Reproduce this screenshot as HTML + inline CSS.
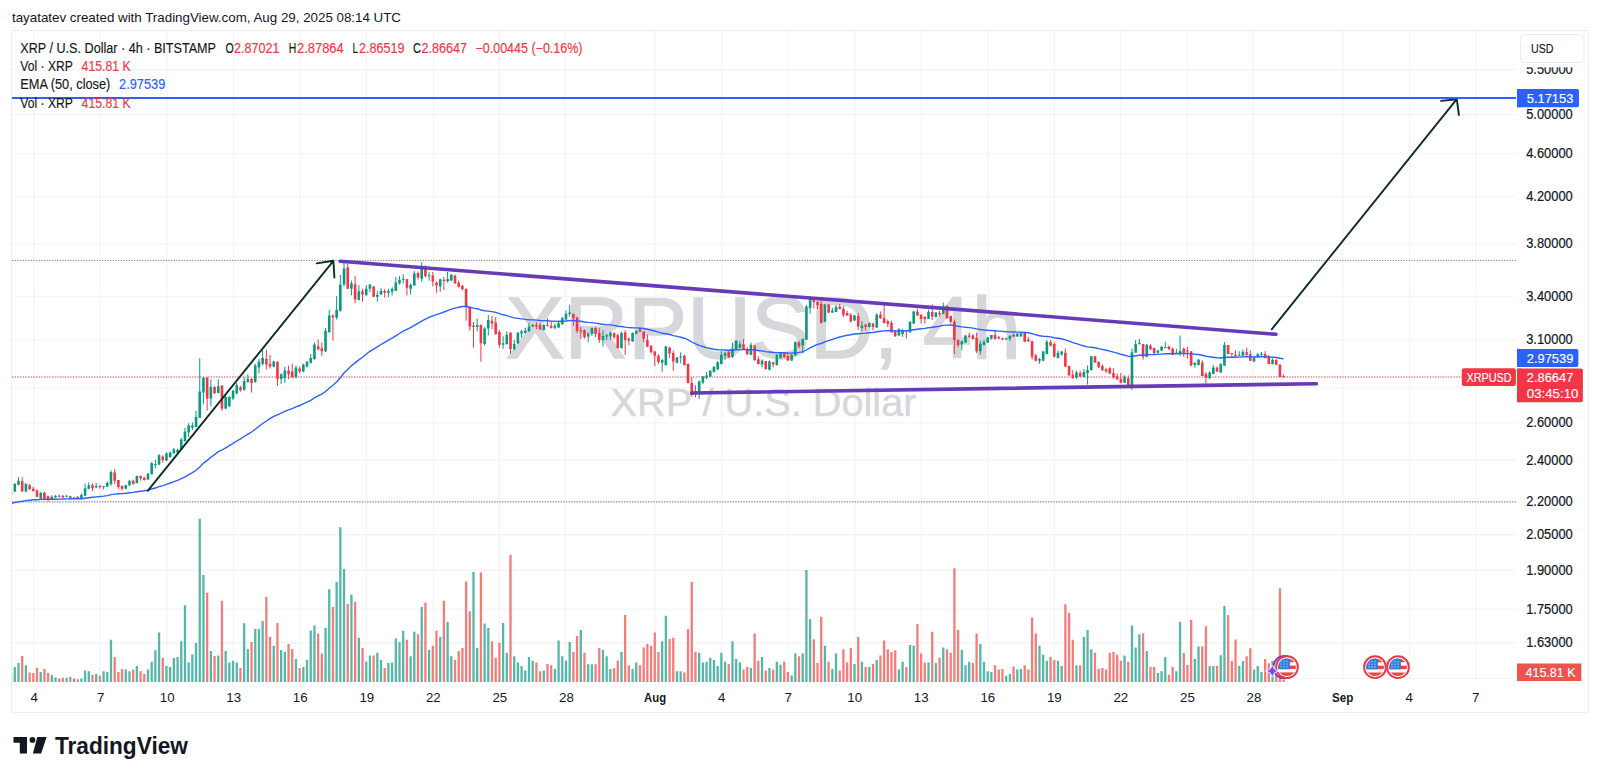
<!DOCTYPE html><html><head><meta charset="utf-8"><style>html,body{margin:0;padding:0;background:#fff;width:1600px;height:779px;overflow:hidden}</style></head><body><svg width="1600" height="779" viewBox="0 0 1600 779" style="display:block">
<rect width="1600" height="779" fill="#ffffff"/>
<text x="12" y="21.5" font-family='"Liberation Sans", sans-serif' font-size="13" fill="#131722" textLength="389" lengthAdjust="spacingAndGlyphs">tayatatev created with TradingView.com, Aug 29, 2025 08:14 UTC</text>
<rect x="11.5" y="30.5" width="1577" height="682" fill="none" stroke="#eeeeef" stroke-width="1"/>
<path d="M12 69.6H1516 M12 114.5H1516 M12 153.8H1516 M12 196.7H1516 M12 243.8H1516 M12 296.2H1516 M12 339.7H1516 M12 387.7H1516 M12 422.7H1516 M12 460.4H1516 M12 501.4H1516 M12 534.6H1516 M12 570.4H1516 M12 609.2H1516 M12 642.6H1516 M12 678.5H1516 M34.0 31V681 M100.0 31V681 M167.0 31V681 M233.5 31V681 M300.3 31V681 M366.3 31V681 M433.5 31V681 M499.3 31V681 M565.2 31V681 M655.0 31V681 M721.8 31V681 M788.2 31V681 M855.0 31V681 M921.2 31V681 M988.5 31V681 M1054.3 31V681 M1120.5 31V681 M1187.2 31V681 M1253.3 31V681 M1343.0 31V681 M1409.6 31V681 M1476.0 31V681" stroke="#f3f3f4" stroke-width="1.1" fill="none"/>
<text x="505.5" y="357.8" font-family='"Liberation Sans", sans-serif' font-size="88" fill="#d6d7db" stroke="#d6d7db" stroke-width="1.4" textLength="515.5" lengthAdjust="spacingAndGlyphs">XRPUSD, 4h</text>
<text x="610.5" y="415.5" font-family='"Liberation Sans", sans-serif' font-size="39.5" fill="#d6d7db" stroke="#d6d7db" stroke-width="0.4" textLength="306" lengthAdjust="spacingAndGlyphs">XRP / U.S. Dollar</text>
<path d="M12 260.5H1516M12 501.8H1516" stroke="#8c8c8c" stroke-width="1.2" stroke-dasharray="1.3 1.35" fill="none"/>
<path d="M12 377H1462" stroke="#f23645" stroke-width="1.2" stroke-dasharray="1.3 1.35" fill="none"/>
<path d="M12.00 682V672.8H12.25V682Z M13.65 682V667.0H15.95V682Z M17.35 682V663.1H19.65V682Z M24.75 682V665.2H27.05V682Z M39.55 682V672.1H41.85V682Z M50.65 682V674.9H52.95V682Z M54.35 682V677.4H56.65V682Z M65.44 682V677.7H67.74V682Z M72.84 682V678.6H75.14V682Z M80.24 682V678.6H82.54V682Z M83.94 682V670.5H86.24V682Z M87.64 682V671.2H89.94V682Z M95.04 682V674.0H97.34V682Z M102.43 682V671.2H104.73V682Z M106.13 682V672.1H108.43V682Z M109.83 682V639.8H112.13V682Z M124.63 682V669.4H126.93V682Z M128.33 682V671.2H130.63V682Z M135.73 682V666.1H138.03V682Z M146.83 682V669.4H149.13V682Z M150.52 682V661.7H152.82V682Z M154.22 682V650.2H156.52V682Z M157.92 682V632.4H160.22V682Z M165.32 682V666.1H167.62V682Z M169.02 682V667.0H171.32V682Z M172.72 682V658.0H175.02V682Z M176.42 682V657.1H178.72V682Z M180.12 682V641.2H182.42V682Z M183.82 682V605.2H186.12V682Z M187.52 682V662.4H189.82V682Z M191.22 682V654.6H193.52V682Z M194.91 682V643.0H197.21V682Z M198.61 682V518.8H200.91V682Z M202.31 682V575.1H204.61V682Z M209.71 682V650.9H212.01V682Z M217.11 682V655.5H219.41V682Z M224.51 682V650.9H226.81V682Z M228.21 682V662.4H230.51V682Z M231.91 682V660.8H234.21V682Z M235.61 682V662.4H237.91V682Z M243.00 682V623.2H245.30V682Z M246.70 682V649.0H249.00V682Z M254.10 682V628.9H256.40V682Z M257.80 682V628.9H260.10V682Z M261.50 682V620.9H263.80V682Z M272.60 682V645.8H274.90V682Z M280.00 682V650.0H282.30V682Z M283.70 682V651.8H286.00V682Z M294.79 682V659.0H297.09V682Z M302.19 682V667.0H304.49V682Z M305.89 682V660.1H308.19V682Z M309.59 682V630.6H311.89V682Z M313.29 682V625.5H315.59V682Z M324.39 682V628.0H326.69V682Z M328.09 682V589.2H330.39V682Z M335.48 682V582.1H337.78V682Z M339.18 682V527.3H341.48V682Z M342.88 682V569.1H345.18V682Z M350.28 682V594.5H352.58V682Z M357.68 682V637.7H359.98V682Z M365.08 682V661.5H367.38V682Z M368.78 682V655.5H371.08V682Z M376.18 682V652.7H378.48V682Z M379.87 682V660.1H382.17V682Z M387.27 682V663.1H389.57V682Z M390.97 682V662.4H393.27V682Z M394.67 682V638.6H396.97V682Z M398.37 682V642.1H400.67V682Z M402.07 682V630.8H404.37V682Z M409.47 682V656.2H411.77V682Z M413.17 682V631.7H415.47V682Z M420.57 682V607.0H422.87V682Z M427.96 682V650.0H430.26V682Z M439.06 682V637.0H441.36V682Z M446.46 682V622.0H448.76V682Z M450.16 682V656.2H452.46V682Z M472.35 682V571.9H474.65V682Z M476.05 682V648.1H478.35V682Z M483.45 682V623.6H485.75V682Z M487.15 682V628.0H489.45V682Z M501.95 682V622.9H504.25V682Z M505.65 682V652.7H507.95V682Z M513.05 682V656.2H515.35V682Z M516.75 682V662.4H519.05V682Z M520.44 682V665.9H522.74V682Z M524.14 682V670.5H526.44V682Z M527.84 682V657.1H530.14V682Z M531.54 682V660.8H533.84V682Z M542.64 682V670.5H544.94V682Z M553.74 682V668.9H556.04V682Z M557.44 682V640.5H559.74V682Z M561.14 682V656.2H563.44V682Z M564.83 682V660.8H567.13V682Z M568.53 682V642.1H570.83V682Z M579.63 682V630.1H581.93V682Z M587.03 682V664.3H589.33V682Z M590.73 682V664.3H593.03V682Z M601.83 682V649.7H604.13V682Z M605.53 682V656.2H607.83V682Z M609.23 682V668.9H611.53V682Z M620.32 682V652.0H622.62V682Z M631.42 682V668.9H633.72V682Z M635.12 682V662.4H637.42V682Z M661.01 682V641.2H663.31V682Z M664.71 682V615.8H667.01V682Z M675.81 682V671.2H678.11V682Z M679.51 682V671.2H681.81V682Z M698.01 682V652.7H700.31V682Z M701.71 682V662.4H704.01V682Z M705.40 682V661.7H707.70V682Z M709.10 682V657.8H711.40V682Z M712.80 682V660.1H715.10V682Z M716.50 682V665.9H718.80V682Z M720.20 682V652.7H722.50V682Z M723.90 682V661.7H726.20V682Z M731.30 682V641.2H733.60V682Z M735.00 682V659.0H737.30V682Z M738.70 682V662.4H741.00V682Z M749.79 682V668.0H752.09V682Z M760.89 682V657.1H763.19V682Z M768.29 682V668.0H770.59V682Z M775.69 682V661.7H777.99V682Z M779.39 682V664.7H781.69V682Z M790.49 682V675.6H792.79V682Z M794.19 682V653.6H796.49V682Z M801.58 682V653.6H803.88V682Z M805.28 682V570.0H807.58V682Z M808.98 682V619.2H811.28V682Z M823.78 682V645.8H826.08V682Z M831.18 682V668.9H833.48V682Z M834.88 682V653.6H837.18V682Z M853.37 682V664.0H855.67V682Z M860.77 682V661.7H863.07V682Z M868.17 682V667.0H870.47V682Z M875.57 682V660.1H877.87V682Z M897.76 682V669.4H900.06V682Z M901.46 682V661.7H903.76V682Z M908.86 682V645.1H911.16V682Z M912.56 682V645.8H914.86V682Z M927.36 682V662.4H929.66V682Z M934.75 682V663.1H937.05V682Z M942.15 682V647.4H944.45V682Z M960.65 682V649.7H962.95V682Z M964.35 682V665.2H966.65V682Z M968.05 682V661.7H970.35V682Z M979.15 682V643.9H981.45V682Z M982.84 682V661.7H985.14V682Z M986.54 682V671.2H988.84V682Z M990.24 682V672.1H992.54V682Z M1005.04 682V675.8H1007.34V682Z M1008.74 682V674.0H1011.04V682Z M1016.14 682V669.4H1018.44V682Z M1019.84 682V668.9H1022.14V682Z M1038.33 682V645.8H1040.63V682Z M1042.03 682V654.8H1044.33V682Z M1045.73 682V660.8H1048.03V682Z M1056.83 682V660.8H1059.13V682Z M1060.53 682V665.9H1062.83V682Z M1075.32 682V665.2H1077.62V682Z M1082.72 682V637.0H1085.02V682Z M1086.42 682V630.1H1088.72V682Z M1090.12 682V649.3H1092.42V682Z M1123.41 682V655.5H1125.71V682Z M1130.81 682V625.5H1133.11V682Z M1134.51 682V647.4H1136.81V682Z M1138.21 682V634.2H1140.51V682Z M1145.61 682V650.9H1147.91V682Z M1156.71 682V672.9H1159.01V682Z M1160.41 682V671.2H1162.71V682Z M1164.11 682V657.1H1166.41V682Z M1175.20 682V671.2H1177.50V682Z M1178.90 682V622.1H1181.20V682Z M1193.70 682V658.9H1196.00V682Z M1197.40 682V646.6H1199.70V682Z M1208.50 682V666.0H1210.80V682Z M1212.19 682V666.0H1214.49V682Z M1219.59 682V655.2H1221.89V682Z M1223.29 682V605.9H1225.59V682Z M1238.09 682V666.0H1240.39V682Z M1241.79 682V660.9H1244.09V682Z M1252.89 682V669.4H1255.19V682Z M1256.59 682V666.0H1258.89V682Z M1260.28 682V672.0H1262.58V682Z M1271.38 682V660.9H1273.68V682Z" fill="#55b7a8"/>
<path d="M21.05 682V656.0H23.35V682Z M28.45 682V672.4H30.75V682Z M32.15 682V673.0H34.45V682Z M35.85 682V667.7H38.15V682Z M43.25 682V668.9H45.55V682Z M46.95 682V673.0H49.25V682Z M58.04 682V678.6H60.34V682Z M61.74 682V677.7H64.04V682Z M69.14 682V676.7H71.44V682Z M76.54 682V679.3H78.84V682Z M91.34 682V675.1H93.64V682Z M98.74 682V675.8H101.04V682Z M113.53 682V657.1H115.83V682Z M117.23 682V672.1H119.53V682Z M120.93 682V668.9H123.23V682Z M132.03 682V669.4H134.33V682Z M139.43 682V671.2H141.73V682Z M143.13 682V674.0H145.43V682Z M161.62 682V658.0H163.92V682Z M206.01 682V592.7H208.31V682Z M213.41 682V656.0H215.71V682Z M220.81 682V600.8H223.11V682Z M239.31 682V668.0H241.61V682Z M250.40 682V642.1H252.70V682Z M265.20 682V597.1H267.50V682Z M268.90 682V637.0H271.20V682Z M276.30 682V622.9H278.60V682Z M287.39 682V643.9H289.69V682Z M291.09 682V649.0H293.39V682Z M298.49 682V668.0H300.79V682Z M316.99 682V633.6H319.29V682Z M320.69 682V653.6H322.99V682Z M331.79 682V607.0H334.09V682Z M346.58 682V604.0H348.88V682Z M353.98 682V601.7H356.28V682Z M361.38 682V648.1H363.68V682Z M372.48 682V655.5H374.78V682Z M383.57 682V668.0H385.87V682Z M405.77 682V639.8H408.07V682Z M416.87 682V634.2H419.17V682Z M424.27 682V602.4H426.57V682Z M431.66 682V645.8H433.96V682Z M435.36 682V630.8H437.66V682Z M442.76 682V600.8H445.06V682Z M453.86 682V660.1H456.16V682Z M457.56 682V650.9H459.86V682Z M461.26 682V648.1H463.56V682Z M464.96 682V581.6H467.26V682Z M468.66 682V611.2H470.96V682Z M479.75 682V572.4H482.05V682Z M490.85 682V641.2H493.15V682Z M494.55 682V657.8H496.85V682Z M498.25 682V642.8H500.55V682Z M509.35 682V555.0H511.65V682Z M535.24 682V662.4H537.54V682Z M538.94 682V671.2H541.24V682Z M546.34 682V664.0H548.64V682Z M550.04 682V665.2H552.34V682Z M572.23 682V652.0H574.53V682Z M575.93 682V635.9H578.23V682Z M583.33 682V652.7H585.63V682Z M594.43 682V664.3H596.73V682Z M598.13 682V648.1H600.43V682Z M612.92 682V668.2H615.22V682Z M616.62 682V660.6H618.92V682Z M624.02 682V615.1H626.32V682Z M627.72 682V665.2H630.02V682Z M638.82 682V665.2H641.12V682Z M642.52 682V647.4H644.82V682Z M646.22 682V643.9H648.52V682Z M649.92 682V645.8H652.22V682Z M653.62 682V632.4H655.92V682Z M657.31 682V652.0H659.61V682Z M668.41 682V638.9H670.71V682Z M672.11 682V637.7H674.41V682Z M683.21 682V672.4H685.51V682Z M686.91 682V628.9H689.21V682Z M690.61 682V582.1H692.91V682Z M694.31 682V652.0H696.61V682Z M727.60 682V664.0H729.90V682Z M742.40 682V669.4H744.70V682Z M746.10 682V667.0H748.40V682Z M753.49 682V633.6H755.79V682Z M757.19 682V660.8H759.49V682Z M764.59 682V670.5H766.89V682Z M771.99 682V669.4H774.29V682Z M783.09 682V661.7H785.39V682Z M786.79 682V672.1H789.09V682Z M797.88 682V656.2H800.18V682Z M812.68 682V639.3H814.98V682Z M816.38 682V663.1H818.68V682Z M820.08 682V616.7H822.38V682Z M827.48 682V661.7H829.78V682Z M838.58 682V670.5H840.88V682Z M842.27 682V649.3H844.57V682Z M845.97 682V662.4H848.27V682Z M849.67 682V648.1H851.97V682Z M857.07 682V637.0H859.37V682Z M864.47 682V667.0H866.77V682Z M871.87 682V664.0H874.17V682Z M879.27 682V655.5H881.57V682Z M882.97 682V640.5H885.27V682Z M886.67 682V649.3H888.97V682Z M890.36 682V652.0H892.66V682Z M894.06 682V650.2H896.36V682Z M905.16 682V667.0H907.46V682Z M916.26 682V623.9H918.56V682Z M919.96 682V653.6H922.26V682Z M923.66 682V662.4H925.96V682Z M931.06 682V631.7H933.36V682Z M938.45 682V657.8H940.75V682Z M945.85 682V649.3H948.15V682Z M949.55 682V652.7H951.85V682Z M953.25 682V568.2H955.55V682Z M956.95 682V630.1H959.25V682Z M971.75 682V663.1H974.05V682Z M975.45 682V633.6H977.75V682Z M993.94 682V665.2H996.24V682Z M997.64 682V669.4H999.94V682Z M1001.34 682V668.9H1003.64V682Z M1012.44 682V666.4H1014.74V682Z M1023.54 682V665.2H1025.84V682Z M1027.23 682V669.4H1029.53V682Z M1030.93 682V617.4H1033.23V682Z M1034.63 682V633.6H1036.93V682Z M1049.43 682V657.1H1051.73V682Z M1053.13 682V660.1H1055.43V682Z M1064.23 682V604.2H1066.53V682Z M1067.93 682V613.0H1070.23V682Z M1071.63 682V639.8H1073.93V682Z M1079.02 682V665.2H1081.32V682Z M1093.82 682V652.7H1096.12V682Z M1097.52 682V668.9H1099.82V682Z M1101.22 682V668.0H1103.52V682Z M1104.92 682V669.4H1107.22V682Z M1108.62 682V652.7H1110.92V682Z M1112.32 682V652.0H1114.62V682Z M1116.02 682V654.8H1118.32V682Z M1119.71 682V660.8H1122.01V682Z M1127.11 682V661.7H1129.41V682Z M1141.91 682V633.2H1144.21V682Z M1149.31 682V667.1H1151.61V682Z M1153.01 682V667.1H1155.31V682Z M1167.80 682V674.8H1170.10V682Z M1171.50 682V667.1H1173.80V682Z M1182.60 682V652.9H1184.90V682Z M1186.30 682V665.1H1188.60V682Z M1190.00 682V620.1H1192.30V682Z M1201.10 682V646.6H1203.40V682Z M1204.80 682V626.2H1207.10V682Z M1215.89 682V666.0H1218.19V682Z M1226.99 682V615.0H1229.29V682Z M1230.69 682V660.9H1232.99V682Z M1234.39 682V639.6H1236.69V682Z M1245.49 682V656.3H1247.79V682Z M1249.19 682V648.3H1251.49V682Z M1263.98 682V658.9H1266.28V682Z M1267.68 682V663.2H1269.98V682Z M1275.08 682V674.8H1277.38V682Z M1278.78 682V588.2H1281.08V682Z M1282.48 682V679.4H1284.78V682Z" fill="#f27d7a"/>
<g clip-path="url(#cp)">
<path d="M11.10 491.6V495.1 M14.80 483.0V492.2 M18.50 477.2V485.3 M25.90 483.0V492.2 M40.70 492.2V499.7 M51.80 495.1V499.7 M55.50 495.1V498.0 M66.59 495.1V497.2 M73.99 496.8V498.8 M81.39 493.4V498.6 M85.09 483.5V496.2 M88.79 482.4V489.3 M96.19 483.0V488.2 M103.58 485.9V489.3 M107.28 481.2V487.0 M110.98 470.3V485.9 M125.78 484.7V489.3 M129.48 480.1V485.9 M136.88 475.5V483.5 M147.98 473.1V480.1 M151.67 462.2V474.3 M155.37 459.9V468.5 M159.07 454.1V465.1 M166.47 452.3V461.0 M170.17 451.7V457.8 M173.87 447.8V454.0 M177.57 448.6V454.8 M181.27 437.8V450.1 M184.97 427.8V441.7 M188.67 423.2V437.0 M192.37 422.4V430.1 M196.06 410.8V427.0 M199.76 358.2V417.8 M203.46 376.9V403.9 M210.86 379.3V406.2 M218.26 379.3V393.1 M225.66 395.4V409.3 M229.36 396.2V407.0 M233.06 390.0V400.1 M236.76 382.9V394.5 M244.15 377.2V390.7 M247.85 374.3V382.9 M255.25 363.7V382.9 M258.95 358.9V373.3 M262.65 350.2V365.6 M273.75 360.8V367.5 M281.15 373.3V383.9 M284.85 366.6V382.9 M295.94 365.6V378.1 M303.34 363.7V372.4 M307.04 360.8V367.5 M310.74 354.0V363.7 M314.44 342.5V359.8 M325.54 328.0V352.1 M329.24 309.7V332.9 M336.63 296.2V319.4 M340.33 275.0V311.7 M344.03 260.3V286.4 M351.43 280.6V295.4 M358.83 285.1V300.3 M366.23 285.1V296.3 M369.93 284.2V292.2 M377.33 291.3V301.7 M381.02 287.8V294.9 M388.42 288.7V297.2 M392.12 287.3V295.4 M395.82 277.0V290.9 M399.52 276.1V284.6 M403.22 274.3V283.7 M410.62 283.3V294.5 M414.32 271.1V285.5 M421.72 262.1V281.9 M429.11 272.0V280.6 M440.21 278.8V291.8 M447.61 272.0V282.6 M451.31 274.1V280.9 M477.20 318.6V331.3 M484.60 327.1V345.4 M488.30 315.1V335.5 M503.10 336.2V348.9 M506.80 331.3V344.7 M514.20 339.8V350.4 M517.90 332.0V344.0 M521.59 329.9V337.7 M525.29 327.8V333.4 M528.99 322.8V332.0 M532.69 324.2V327.1 M543.79 324.2V330.6 M554.89 323.5V329.2 M558.59 320.4V328.1 M562.29 316.8V325.0 M565.98 310.5V320.4 M569.68 304.8V316.8 M588.18 332.4V342.2 M591.88 327.4V335.9 M602.98 330.2V346.5 M606.68 333.8V340.1 M610.38 331.6V340.1 M621.47 331.6V348.6 M632.57 332.4V341.5 M636.27 330.2V334.5 M662.16 359.2V371.9 M665.86 346.0V365.6 M676.96 357.0V363.3 M680.66 352.3V363.3 M699.16 380.7V399.1 M702.86 376.0V384.1 M706.55 372.0V378.9 M710.25 370.3V377.2 M713.95 366.2V372.6 M717.65 361.0V370.3 M721.35 350.6V364.5 M725.05 351.8V359.9 M732.45 342.5V358.1 M736.15 340.2V350.0 M739.85 341.4V348.3 M750.94 342.5V355.2 M762.04 359.3V367.4 M769.44 360.4V370.3 M776.84 354.1V365.7 M780.54 352.4V358.7 M791.64 354.1V361.0 M795.34 341.4V355.9 M802.73 338.5V353.5 M806.43 305.0V339.7 M810.13 298.7V313.7 M824.93 303.9V321.8 M832.33 307.9V313.1 M836.03 305.0V312.0 M854.52 314.8V321.2 M861.92 321.2V331.0 M869.32 322.3V327.5 M876.72 313.1V328.1 M898.91 328.1V336.2 M902.61 329.3V336.8 M910.01 321.2V332.7 M913.71 310.8V324.1 M928.51 309.6V318.9 M935.90 312.0V317.7 M943.30 302.7V314.3 M961.80 340.3V350.1 M965.50 335.1V343.1 M980.30 340.8V354.7 M983.99 339.7V345.5 M987.69 336.8V343.1 M991.39 335.1V339.7 M1006.19 337.7V339.8 M1009.89 334.8V341.2 M1017.29 332.5V336.8 M1020.99 332.0V336.8 M1039.48 357.9V363.7 M1043.18 351.0V360.8 M1046.88 340.0V354.5 M1057.98 350.4V358.5 M1061.68 351.0V355.6 M1076.47 370.7V378.7 M1083.87 368.9V377.6 M1087.57 365.5V384.5 M1091.27 356.2V370.7 M1124.56 375.3V383.0 M1131.96 348.7V389.7 M1135.66 340.0V352.7 M1139.36 338.9V344.7 M1146.76 344.1V357.4 M1157.86 349.9V353.9 M1161.56 345.8V351.0 M1165.26 341.8V348.1 M1176.35 348.7V353.7 M1180.05 335.4V356.2 M1194.85 362.0V367.8 M1198.55 359.1V365.5 M1209.65 371.2V378.9 M1213.34 365.1V373.9 M1220.74 363.1V372.8 M1224.44 341.9V365.8 M1239.24 351.2V355.8 M1242.94 349.3V356.2 M1254.04 356.6V362.4 M1257.74 353.1V357.7 M1261.43 352.0V355.8 M1272.53 358.5V364.3" stroke="#089981" stroke-width="1" fill="none"/>
<path d="M22.20 477.2V491.6 M29.60 484.1V489.9 M33.30 487.0V491.6 M37.00 489.3V497.4 M44.40 491.6V499.7 M48.10 495.7V501.4 M59.19 494.5V497.4 M62.89 495.1V497.6 M70.29 495.7V499.7 M77.69 496.2V498.8 M92.49 483.5V491.0 M99.89 484.7V488.7 M114.68 469.1V484.1 M118.38 480.1V488.7 M122.08 485.3V490.5 M133.18 479.5V484.7 M140.58 475.5V480.7 M144.28 476.6V480.7 M162.77 455.2V462.7 M207.16 376.9V410.8 M214.56 386.2V393.9 M221.96 385.4V410.8 M240.46 385.8V391.6 M251.55 378.1V392.6 M266.35 350.2V369.5 M270.05 355.0V368.5 M277.45 361.4V385.8 M288.54 365.6V379.1 M292.24 363.7V378.1 M299.64 366.6V373.3 M318.14 339.6V350.2 M321.84 342.5V356.0 M332.94 314.5V340.6 M347.73 263.9V289.1 M355.13 276.1V303.0 M362.53 288.7V301.7 M373.63 286.0V296.7 M384.72 289.1V297.6 M406.92 278.8V295.4 M418.02 271.6V279.7 M425.42 265.3V277.4 M432.81 272.0V286.4 M436.51 281.5V292.7 M443.91 277.0V290.0 M455.01 274.8V284.0 M458.71 280.5V287.5 M462.41 284.7V290.4 M466.11 288.2V320.7 M469.81 306.6V330.6 M473.50 322.1V347.5 M480.90 324.2V361.7 M492.00 315.8V329.2 M495.70 317.2V334.8 M499.40 329.9V347.5 M510.50 332.0V353.9 M536.39 322.1V329.2 M540.09 322.8V329.9 M547.49 318.6V326.4 M551.19 321.4V328.5 M573.38 313.3V326.0 M577.08 316.8V333.1 M580.78 326.7V338.7 M584.48 329.5V338.7 M595.58 326.7V337.3 M599.28 328.1V342.9 M614.07 332.4V338.7 M617.77 333.8V348.6 M625.17 330.2V354.9 M628.87 337.3V345.1 M639.97 327.4V332.4 M643.67 331.6V342.2 M647.37 334.5V347.2 M651.07 345.1V353.5 M654.77 350.7V366.2 M658.46 354.2V364.1 M669.56 346.6V358.1 M673.26 350.6V370.8 M684.36 354.7V365.6 M688.06 363.3V383.5 M691.76 377.2V396.8 M695.46 385.3V397.4 M728.75 351.2V358.1 M743.55 339.1V349.5 M747.25 347.1V355.2 M754.64 344.8V361.0 M758.34 356.4V364.5 M765.74 361.0V369.7 M773.14 361.6V367.4 M784.24 353.0V358.2 M787.94 353.0V361.0 M799.03 340.8V348.3 M813.83 298.1V308.5 M817.53 301.0V309.1 M821.23 300.4V323.5 M828.63 303.9V313.1 M839.73 303.9V309.6 M843.42 306.2V317.1 M847.12 310.8V316.0 M850.82 313.1V322.9 M858.22 313.1V329.9 M865.62 324.1V330.4 M873.02 322.9V330.4 M880.42 311.4V318.9 M884.12 305.0V323.5 M887.82 319.5V327.0 M891.51 320.6V332.7 M895.21 329.9V336.8 M906.31 329.9V338.5 M917.41 309.1V316.0 M921.11 314.3V323.5 M924.81 316.0V323.5 M932.21 304.4V320.0 M939.60 310.8V316.6 M947.00 305.0V318.9 M950.70 315.4V323.5 M954.40 319.5V354.1 M958.10 339.7V347.2 M969.20 332.7V337.9 M972.90 333.9V339.7 M976.60 332.7V353.0 M995.09 331.0V339.7 M998.79 336.0V339.5 M1002.49 337.7V340.3 M1013.59 333.7V337.1 M1024.69 331.4V342.1 M1028.38 337.1V341.8 M1032.08 340.6V359.7 M1035.78 353.9V361.4 M1050.58 340.0V346.4 M1054.28 342.3V357.4 M1065.38 348.7V367.2 M1069.08 365.5V375.9 M1072.78 370.1V378.7 M1080.17 370.7V377.0 M1094.97 356.2V363.1 M1098.67 361.4V368.3 M1102.37 364.3V371.2 M1106.07 367.8V373.0 M1109.77 367.2V374.1 M1113.47 368.3V378.7 M1117.17 373.5V379.9 M1120.86 373.0V383.4 M1128.26 375.3V386.8 M1143.06 344.1V359.7 M1150.46 344.1V349.9 M1154.16 347.5V353.9 M1168.95 345.8V349.9 M1172.65 347.5V355.1 M1183.75 347.5V356.8 M1187.45 347.0V358.5 M1191.15 351.0V366.0 M1202.25 360.3V375.9 M1205.95 372.0V383.5 M1217.04 366.2V372.0 M1228.14 345.0V354.3 M1231.84 353.1V357.7 M1235.54 350.4V356.6 M1246.64 347.7V356.6 M1250.34 350.4V360.8 M1265.13 351.2V358.5 M1268.83 355.0V364.3 M1276.23 358.5V365.1 M1279.93 364.3V377.0 M1283.63 374.3V377.2" stroke="#f23645" stroke-width="1" fill="none"/>
<path d="M12.00 492.2H12.40V494.5H12.00Z M13.50 484.1H16.10V491.6H13.50Z M17.20 480.7H19.80V484.7H17.20Z M24.60 484.1H27.20V491.6H24.60Z M39.40 492.8H42.00V498.6H39.40Z M50.50 496.8H53.10V499.1H50.50Z M54.20 495.7H56.80V497.4H54.20Z M65.29 495.7H67.89V496.8H65.29Z M72.69 497.4H75.29V498.6H72.69Z M80.09 495.1H82.69V498.0H80.09Z M83.79 488.2H86.39V495.7H83.79Z M87.49 485.3H90.09V488.7H87.49Z M94.89 485.9H97.49V487.6H94.89Z M102.28 485.9H104.88V486.9H102.28Z M105.98 483.0H108.58V486.4H105.98Z M109.68 472.0H112.28V484.1H109.68Z M124.48 485.3H127.08V488.7H124.48Z M128.18 480.7H130.78V485.3H128.18Z M135.58 476.0H138.18V483.0H135.58Z M146.68 473.7H149.28V479.5H146.68Z M150.37 463.3H152.97V474.3H150.37Z M154.07 463.9H156.67V465.1H154.07Z M157.77 455.2H160.37V464.5H157.77Z M165.17 453.5H167.77V460.4H165.17Z M168.87 452.4H171.47V457.1H168.87Z M172.57 449.4H175.17V453.2H172.57Z M176.27 450.1H178.87V452.4H176.27Z M179.97 439.4H182.57V449.4H179.97Z M183.67 431.6H186.27V440.9H183.67Z M187.37 425.5H189.97V432.4H187.37Z M191.07 425.5H193.67V427.8H191.07Z M194.76 417.0H197.36V427.0H194.76Z M198.46 391.6H201.06V417.8H198.46Z M202.16 377.7H204.76V392.4H202.16Z M209.56 387.0H212.16V398.5H209.56Z M216.96 386.2H219.56V393.1H216.96Z M224.36 397.0H226.96V408.5H224.36Z M228.06 397.0H230.66V406.2H228.06Z M231.76 390.8H234.36V398.5H231.76Z M235.46 384.9H238.06V393.5H235.46Z M242.85 381.0H245.45V389.7H242.85Z M246.55 379.1H249.15V382.0H246.55Z M253.95 365.6H256.55V382.0H253.95Z M257.65 361.8H260.25V367.5H257.65Z M261.35 357.9H263.95V363.7H261.35Z M272.45 361.4H275.05V366.6H272.45Z M279.85 374.3H282.45V379.1H279.85Z M283.55 370.4H286.15V378.1H283.55Z M294.64 367.5H297.24V377.2H294.64Z M302.04 364.6H304.64V371.4H302.04Z M305.74 361.8H308.34V366.6H305.74Z M309.44 357.9H312.04V362.7H309.44Z M313.14 344.4H315.74V358.9H313.14Z M324.24 330.9H326.84V351.2H324.24Z M327.94 315.5H330.54V331.9H327.94Z M335.33 309.7H337.93V317.4H335.33Z M339.03 284.7H341.63V310.7H339.03Z M342.73 268.4H345.33V284.6H342.73Z M350.13 283.3H352.73V288.7H350.13Z M357.53 291.3H360.13V299.9H357.53Z M364.93 288.7H367.53V294.9H364.93Z M368.63 284.6H371.23V288.7H368.63Z M376.03 294.9H378.63V296.7H376.03Z M379.72 290.9H382.32V294.5H379.72Z M387.12 290.9H389.72V292.7H387.12Z M390.82 288.7H393.42V291.8H390.82Z M394.52 282.4H397.12V290.9H394.52Z M398.22 279.7H400.82V283.3H398.22Z M401.92 278.8H404.52V279.8H401.92Z M409.32 285.1H411.92V288.7H409.32Z M413.02 273.4H415.62V285.5H413.02Z M420.42 267.5H423.02V278.8H420.42Z M427.81 275.2H430.41V276.2H427.81Z M438.91 279.2H441.51V286.4H438.91Z M446.31 279.1H448.91V281.2H446.31Z M450.01 274.8H452.61V280.5H450.01Z M475.90 325.2H478.50V327.1H475.90Z M483.30 328.5H485.90V344.0H483.30Z M487.00 320.0H489.60V328.5H487.00Z M501.80 343.3H504.40V344.7H501.80Z M505.50 334.8H508.10V344.0H505.50Z M512.90 344.0H515.50V348.9H512.90Z M516.60 332.7H519.20V343.3H516.60Z M520.29 331.3H522.89V333.4H520.29Z M523.99 330.6H526.59V332.7H523.99Z M527.69 326.4H530.29V331.3H527.69Z M531.39 324.9H533.99V326.4H531.39Z M542.49 324.9H545.09V329.9H542.49Z M553.59 325.7H556.19V327.8H553.59Z M557.29 323.2H559.89V327.4H557.29Z M560.99 318.2H563.59V323.9H560.99Z M564.68 314.0H567.28V319.6H564.68Z M568.38 312.6H570.98V314.0H568.38Z M586.88 333.8H589.48V336.6H586.88Z M590.58 328.1H593.18V333.8H590.58Z M601.68 335.9H604.28V340.1H601.68Z M605.38 335.2H607.98V336.6H605.38Z M609.08 332.4H611.68V336.6H609.08Z M620.17 333.1H622.77V347.9H620.17Z M631.27 333.1H633.87V341.5H631.27Z M634.97 330.9H637.57V333.8H634.97Z M660.86 359.9H663.46V362.7H660.86Z M664.56 346.6H667.16V365.1H664.56Z M675.66 357.5H678.26V362.7H675.66Z M679.36 356.4H681.96V357.5H679.36Z M697.86 381.2H700.46V392.8H697.86Z M701.56 376.6H704.16V382.4H701.56Z M705.25 375.5H707.85V377.8H705.25Z M708.95 370.8H711.55V376.6H708.95Z M712.65 366.8H715.25V372.0H712.65Z M716.35 362.2H718.95V369.1H716.35Z M720.05 354.7H722.65V363.9H720.05Z M723.75 352.9H726.35V355.8H723.75Z M731.15 348.9H733.75V357.0H731.15Z M734.85 340.8H737.45V349.5H734.85Z M738.55 344.3H741.15V347.7H738.55Z M749.64 344.8H752.24V354.7H749.64Z M760.74 360.4H763.34V364.5H760.74Z M768.14 361.6H770.74V369.7H768.14Z M775.54 354.7H778.14V365.1H775.54Z M779.24 353.0H781.84V358.2H779.24Z M790.34 354.7H792.94V360.5H790.34Z M794.04 342.0H796.64V355.3H794.04Z M801.43 339.1H804.03V345.5H801.43Z M805.13 306.8H807.73V339.7H805.13Z M808.83 299.2H811.43V307.9H808.83Z M823.63 304.4H826.23V321.8H823.63Z M831.03 310.8H833.63V312.5H831.03Z M834.73 306.8H837.33V312.0H834.73Z M853.22 315.4H855.82V320.6H853.22Z M860.62 325.8H863.22V328.1H860.62Z M868.02 322.9H870.62V327.0H868.02Z M875.42 314.8H878.02V327.5H875.42Z M897.61 329.3H900.21V335.6H897.61Z M901.31 330.4H903.91V333.9H901.31Z M908.71 321.8H911.31V332.2H908.71Z M912.41 311.4H915.01V323.5H912.41Z M927.21 312.0H929.81V318.9H927.21Z M934.60 312.5H937.20V317.1H934.60Z M942.00 306.2H944.60V313.7H942.00Z M960.50 341.4H963.10V344.3H960.50Z M964.20 335.6H966.80V342.6H964.20Z M979.00 343.7H981.60V351.2H979.00Z M982.69 342.0H985.29V344.9H982.69Z M986.39 337.4H988.99V342.6H986.39Z M990.09 335.1H992.69V338.5H990.09Z M1004.89 338.3H1007.49V339.5H1004.89Z M1008.59 336.0H1011.19V338.9H1008.59Z M1015.99 333.7H1018.59V336.6H1015.99Z M1019.69 332.5H1022.29V336.6H1019.69Z M1038.18 359.1H1040.78V360.8H1038.18Z M1041.88 351.6H1044.48V360.8H1041.88Z M1045.58 341.8H1048.18V353.9H1045.58Z M1056.68 352.7H1059.28V357.9H1056.68Z M1060.38 351.6H1062.98V354.5H1060.38Z M1075.17 372.4H1077.77V377.6H1075.17Z M1082.57 371.8H1085.17V377.0H1082.57Z M1086.27 370.1H1088.87V373.0H1086.27Z M1089.97 356.2H1092.57V370.1H1089.97Z M1123.26 377.0H1125.86V382.8H1123.26Z M1130.66 352.2H1133.26V388.0H1130.66Z M1134.36 344.1H1136.96V352.7H1134.36Z M1138.06 342.9H1140.66V344.1H1138.06Z M1145.46 344.7H1148.06V356.8H1145.46Z M1156.56 350.4H1159.16V352.7H1156.56Z M1160.26 347.0H1162.86V350.4H1160.26Z M1163.96 347.0H1166.56V348.0H1163.96Z M1175.05 352.7H1177.65V353.7H1175.05Z M1178.75 351.0H1181.35V353.3H1178.75Z M1193.55 363.1H1196.15V364.9H1193.55Z M1197.25 359.7H1199.85V364.9H1197.25Z M1208.35 372.4H1210.95V378.2H1208.35Z M1212.04 367.4H1214.64V373.9H1212.04Z M1219.44 364.3H1222.04V372.4H1219.44Z M1223.14 345.0H1225.74V365.8H1223.14Z M1237.94 354.7H1240.54V355.7H1237.94Z M1241.64 352.0H1244.24V355.8H1241.64Z M1252.74 357.3H1255.34V361.2H1252.74Z M1256.44 354.3H1259.04V357.3H1256.44Z M1260.13 353.9H1262.73V355.0H1260.13Z M1271.23 359.7H1273.83V363.9H1271.23Z" fill="#089981"/>
<path d="M20.90 481.2H23.50V491.6H20.90Z M28.30 485.3H30.90V489.3H28.30Z M32.00 488.7H34.60V491.0H32.00Z M35.70 490.5H38.30V496.8H35.70Z M43.10 492.8H45.70V499.1H43.10Z M46.80 496.2H49.40V499.7H46.80Z M57.89 495.7H60.49V496.8H57.89Z M61.59 495.7H64.19V497.4H61.59Z M68.99 496.2H71.59V498.6H68.99Z M76.39 496.8H78.99V498.6H76.39Z M91.19 485.3H93.79V488.2H91.19Z M98.59 486.1H101.19V487.1H98.59Z M113.38 472.6H115.98V480.7H113.38Z M117.08 480.1H119.68V487.0H117.08Z M120.78 485.9H123.38V488.7H120.78Z M131.88 480.7H134.48V484.1H131.88Z M139.28 476.0H141.88V478.3H139.28Z M142.98 477.8H145.58V480.1H142.98Z M161.47 456.4H164.07V459.9H161.47Z M205.86 377.7H208.46V398.5H205.86Z M213.26 387.0H215.86V393.1H213.26Z M220.66 385.4H223.26V408.5H220.66Z M239.16 387.2H241.76V390.3H239.16Z M250.25 379.1H252.85V382.9H250.25Z M265.05 358.9H267.65V364.6H265.05Z M268.75 363.7H271.35V366.6H268.75Z M276.15 361.8H278.75V379.1H276.15Z M287.24 370.4H289.84V374.3H287.24Z M290.94 371.4H293.54V377.2H290.94Z M298.34 368.5H300.94V371.4H298.34Z M316.84 346.3H319.44V349.2H316.84Z M320.54 348.3H323.14V351.2H320.54Z M331.64 315.5H334.24V317.4H331.64Z M346.43 267.5H349.03V288.7H346.43Z M353.83 284.2H356.43V299.4H353.83Z M361.23 291.3H363.83V294.5H361.23Z M372.33 286.4H374.93V296.7H372.33Z M383.42 290.9H386.02V292.7H383.42Z M405.62 279.2H408.22V287.8H405.62Z M416.72 272.9H419.32V277.4H416.72Z M424.12 268.0H426.72V276.1H424.12Z M431.51 275.6H434.11V281.5H431.51Z M435.21 282.4H437.81V285.5H435.21Z M442.61 279.7H445.21V281.0H442.61Z M453.71 275.5H456.31V283.3H453.71Z M457.41 282.6H460.01V286.8H457.41Z M461.11 286.1H463.71V288.9H461.11Z M464.81 288.9H467.41V306.6H464.81Z M468.51 307.3H471.11V326.4H468.51Z M472.20 325.7H474.80V327.1H472.20Z M479.60 324.9H482.20V343.3H479.60Z M490.70 320.7H493.30V323.5H490.70Z M494.40 322.8H497.00V334.1H494.40Z M498.10 332.0H500.70V344.7H498.10Z M509.20 332.7H511.80V348.9H509.20Z M535.09 324.9H537.69V326.4H535.09Z M538.79 324.9H541.39V329.2H538.79Z M546.19 324.9H548.79V325.9H546.19Z M549.89 325.7H552.49V327.8H549.89Z M572.08 314.0H574.68V318.2H572.08Z M575.78 317.5H578.38V330.9H575.78Z M579.48 330.2H582.08V331.6H579.48Z M583.18 330.2H585.78V337.3H583.18Z M594.28 328.1H596.88V333.8H594.28Z M597.98 333.1H600.58V340.1H597.98Z M612.77 333.1H615.37V337.3H612.77Z M616.47 335.2H619.07V347.9H616.47Z M623.87 332.4H626.47V340.1H623.87Z M627.57 338.7H630.17V340.8H627.57Z M638.67 328.1H641.27V331.6H638.67Z M642.37 331.6H644.97V338.7H642.37Z M646.07 340.1H648.67V346.5H646.07Z M649.77 345.8H652.37V352.1H649.77Z M653.47 351.4H656.07V355.7H653.47Z M657.16 355.7H659.76V362.0H657.16Z M668.26 347.7H670.86V353.5H668.26Z M671.96 352.9H674.56V361.6H671.96Z M683.06 355.8H685.66V365.1H683.06Z M686.76 363.9H689.36V383.0H686.76Z M690.46 383.0H693.06V395.1H690.46Z M694.16 391.6H696.76V392.8H694.16Z M727.45 351.8H730.05V357.5H727.45Z M742.25 344.3H744.85V348.9H742.25Z M745.95 348.9H748.55V354.1H745.95Z M753.34 345.4H755.94V359.9H753.34Z M757.04 359.3H759.64V363.9H757.04Z M764.44 361.0H767.04V369.1H764.44Z M771.84 362.2H774.44V364.5H771.84Z M782.94 353.5H785.54V357.0H782.94Z M786.64 355.9H789.24V360.5H786.64Z M797.73 342.6H800.33V346.6H797.73Z M812.53 299.2H815.13V302.1H812.53Z M816.23 302.1H818.83V305.0H816.23Z M819.93 303.9H822.53V322.9H819.93Z M827.33 304.4H829.93V312.5H827.33Z M838.43 306.8H841.03V309.1H838.43Z M842.12 309.1H844.72V314.8H842.12Z M845.82 313.1H848.42V315.4H845.82Z M849.52 314.8H852.12V321.2H849.52Z M856.92 316.0H859.52V326.4H856.92Z M864.32 324.7H866.92V327.0H864.32Z M871.72 323.5H874.32V327.0H871.72Z M879.12 314.8H881.72V318.3H879.12Z M882.82 317.7H885.42V322.9H882.82Z M886.52 321.2H889.12V324.1H886.52Z M890.21 322.9H892.81V332.2H890.21Z M893.91 331.0H896.51V336.2H893.91Z M905.01 330.4H907.61V331.6H905.01Z M916.11 311.4H918.71V315.4H916.11Z M919.81 314.8H922.41V318.9H919.81Z M923.51 317.1H926.11V318.9H923.51Z M930.91 312.0H933.51V316.6H930.91Z M938.30 313.1H940.90V314.3H938.30Z M945.70 306.2H948.30V318.3H945.70Z M949.40 316.0H952.00V321.8H949.40Z M953.10 321.8H955.70V340.3H953.10Z M956.80 339.7H959.40V344.9H956.80Z M967.90 335.6H970.50V336.8H967.90Z M971.60 335.6H974.20V339.1H971.60Z M975.30 337.9H977.90V351.2H975.30Z M993.79 335.1H996.39V339.1H993.79Z M997.49 337.1H1000.09V338.3H997.49Z M1001.19 338.3H1003.79V339.5H1001.19Z M1012.29 334.8H1014.89V336.6H1012.29Z M1023.39 332.5H1025.99V341.8H1023.39Z M1027.08 339.5H1029.68V341.2H1027.08Z M1030.78 341.2H1033.38V356.8H1030.78Z M1034.48 355.6H1037.08V360.8H1034.48Z M1049.28 342.3H1051.88V345.8H1049.28Z M1052.98 344.1H1055.58V356.8H1052.98Z M1064.08 352.7H1066.68V366.6H1064.08Z M1067.78 366.0H1070.38V375.3H1067.78Z M1071.48 374.7H1074.08V378.2H1071.48Z M1078.87 373.0H1081.47V376.4H1078.87Z M1093.67 356.2H1096.27V362.6H1093.67Z M1097.37 362.0H1099.97V367.2H1097.37Z M1101.07 366.0H1103.67V370.1H1101.07Z M1104.77 369.5H1107.37V371.2H1104.77Z M1108.47 368.3H1111.07V373.5H1108.47Z M1112.17 373.0H1114.77V377.0H1112.17Z M1115.87 376.4H1118.47V379.3H1115.87Z M1119.56 378.7H1122.16V382.8H1119.56Z M1126.96 378.2H1129.56V386.8H1126.96Z M1141.76 344.1H1144.36V356.8H1141.76Z M1149.16 345.8H1151.76V349.3H1149.16Z M1152.86 348.1H1155.46V353.3H1152.86Z M1167.65 346.4H1170.25V349.3H1167.65Z M1171.35 348.7H1173.95V354.5H1171.35Z M1182.45 348.7H1185.05V352.7H1182.45Z M1186.15 350.4H1188.75V351.6H1186.15Z M1189.85 351.6H1192.45V365.5H1189.85Z M1200.95 362.6H1203.55V375.9H1200.95Z M1204.65 373.9H1207.25V377.8H1204.65Z M1215.74 367.8H1218.34V371.6H1215.74Z M1226.84 345.0H1229.44V353.9H1226.84Z M1230.54 353.1H1233.14V354.1H1230.54Z M1234.24 354.7H1236.84V356.2H1234.24Z M1245.34 352.3H1247.94V354.7H1245.34Z M1249.04 354.3H1251.64V360.8H1249.04Z M1263.83 353.9H1266.43V358.1H1263.83Z M1267.53 356.2H1270.13V363.9H1267.53Z M1274.93 360.0H1277.53V364.7H1274.93Z M1278.63 364.7H1281.23V377.0H1278.63Z M1282.33 376.2H1284.93V377.2H1282.33Z" fill="#f23645"/>
</g>
<defs><clipPath id="cp"><rect x="12" y="31" width="1504" height="651"/></clipPath></defs>
<path d="M12.0 503.3 L14.8 502.6 L18.5 501.7 L22.2 501.3 L25.9 500.6 L29.6 500.2 L33.3 499.8 L37.0 499.7 L40.7 499.4 L44.4 499.4 L48.1 499.4 L51.8 499.3 L55.5 499.2 L59.2 499.1 L62.9 499.0 L66.6 498.9 L70.3 498.9 L74.0 498.8 L77.7 498.8 L81.4 498.7 L85.1 498.2 L88.8 497.7 L92.5 497.3 L96.2 496.9 L99.9 496.5 L103.6 496.1 L107.3 495.6 L111.0 494.6 L114.7 494.1 L118.4 493.8 L122.1 493.6 L125.8 493.2 L129.5 492.7 L133.2 492.4 L136.9 491.8 L140.6 491.2 L144.3 490.8 L148.0 490.1 L151.7 489.0 L155.4 488.0 L159.1 486.7 L162.8 485.6 L166.5 484.3 L170.2 483.0 L173.9 481.6 L177.6 480.4 L181.3 478.7 L185.0 476.8 L188.7 474.6 L192.4 472.6 L196.1 470.3 L199.8 466.9 L203.5 463.1 L207.2 460.4 L210.9 457.3 L214.6 454.6 L218.3 451.7 L222.0 450.0 L225.7 447.8 L229.4 445.7 L233.1 443.4 L236.8 441.0 L240.5 438.9 L244.2 436.5 L247.9 434.1 L251.6 432.0 L255.3 429.2 L259.0 426.3 L262.7 423.5 L266.3 421.0 L270.0 418.7 L273.7 416.4 L277.4 414.8 L281.1 413.2 L284.8 411.4 L288.5 409.9 L292.2 408.6 L295.9 406.9 L299.6 405.5 L303.3 403.8 L307.0 402.1 L310.7 400.3 L314.4 397.9 L318.1 395.9 L321.8 394.1 L325.5 391.5 L329.2 388.2 L332.9 385.2 L336.6 382.0 L340.3 377.8 L344.0 373.0 L347.7 369.4 L351.4 365.7 L355.1 362.9 L358.8 359.9 L362.5 357.2 L366.2 354.3 L369.9 351.3 L373.6 349.1 L377.3 346.8 L381.0 344.5 L384.7 342.4 L388.4 340.2 L392.1 338.1 L395.8 335.8 L399.5 333.5 L403.2 331.2 L406.9 329.4 L410.6 327.6 L414.3 325.3 L418.0 323.4 L421.7 321.1 L425.4 319.2 L429.1 317.4 L432.8 315.9 L436.5 314.7 L440.2 313.3 L443.9 312.0 L447.6 310.6 L451.3 309.2 L455.0 308.1 L458.7 307.3 L462.4 306.5 L466.1 306.5 L469.8 307.3 L473.5 308.1 L477.2 308.7 L480.9 310.0 L484.6 310.7 L488.3 311.1 L492.0 311.6 L495.7 312.4 L499.4 313.7 L503.1 314.8 L506.8 315.6 L510.5 316.8 L514.2 317.9 L517.9 318.4 L521.6 318.9 L525.3 319.4 L529.0 319.7 L532.7 319.9 L536.4 320.1 L540.1 320.5 L543.8 320.6 L547.5 320.8 L551.2 321.1 L554.9 321.3 L558.6 321.4 L562.3 321.2 L566.0 321.0 L569.7 320.6 L573.4 320.5 L577.1 320.9 L580.8 321.3 L584.5 322.0 L588.2 322.4 L591.9 322.6 L595.6 323.1 L599.3 323.7 L603.0 324.2 L606.7 324.6 L610.4 324.9 L614.1 325.4 L617.8 326.3 L621.5 326.5 L625.2 327.1 L628.9 327.6 L632.6 327.8 L636.3 327.9 L640.0 328.1 L643.7 328.5 L647.4 329.2 L651.1 330.1 L654.8 331.0 L658.5 332.2 L662.2 333.3 L665.9 333.8 L669.6 334.5 L673.3 335.6 L677.0 336.4 L680.7 337.2 L684.4 338.2 L688.1 339.9 L691.8 342.0 L695.5 343.9 L699.2 345.3 L702.9 346.5 L706.6 347.6 L710.3 348.5 L714.0 349.2 L717.7 349.7 L721.4 349.9 L725.1 350.0 L728.7 350.3 L732.4 350.2 L736.1 349.8 L739.8 349.6 L743.5 349.6 L747.2 349.8 L750.9 349.6 L754.6 350.0 L758.3 350.5 L762.0 350.9 L765.7 351.6 L769.4 352.0 L773.1 352.5 L776.8 352.6 L780.5 352.6 L784.2 352.7 L787.9 353.0 L791.6 353.1 L795.3 352.7 L799.0 352.4 L802.7 351.9 L806.4 350.0 L810.1 347.9 L813.8 346.1 L817.5 344.4 L821.2 343.5 L824.9 341.9 L828.6 340.7 L832.3 339.5 L836.0 338.2 L839.7 337.0 L843.4 336.1 L847.1 335.3 L850.8 334.7 L854.5 334.0 L858.2 333.7 L861.9 333.4 L865.6 333.1 L869.3 332.7 L873.0 332.5 L876.7 331.8 L880.4 331.2 L884.1 330.9 L887.8 330.6 L891.5 330.7 L895.2 330.9 L898.9 330.9 L902.6 330.8 L906.3 330.9 L910.0 330.5 L913.7 329.7 L917.4 329.2 L921.1 328.8 L924.8 328.4 L928.5 327.7 L932.2 327.3 L935.9 326.7 L939.6 326.2 L943.3 325.4 L947.0 325.1 L950.7 325.0 L954.4 325.6 L958.1 326.3 L961.8 326.9 L965.5 327.2 L969.2 327.6 L972.9 328.1 L976.6 328.9 L980.3 329.5 L984.0 330.0 L987.7 330.3 L991.4 330.5 L995.1 330.8 L998.8 331.1 L1002.5 331.4 L1006.2 331.7 L1009.9 331.9 L1013.6 332.0 L1017.3 332.1 L1021.0 332.1 L1024.7 332.5 L1028.4 332.8 L1032.1 333.7 L1035.8 334.8 L1039.5 335.7 L1043.2 336.3 L1046.9 336.5 L1050.6 336.9 L1054.3 337.7 L1058.0 338.2 L1061.7 338.8 L1065.4 339.8 L1069.1 341.2 L1072.8 342.6 L1076.5 343.7 L1080.2 344.9 L1083.9 346.0 L1087.6 346.9 L1091.3 347.2 L1095.0 347.8 L1098.7 348.6 L1102.4 349.4 L1106.1 350.2 L1109.8 351.1 L1113.5 352.1 L1117.2 353.2 L1120.9 354.3 L1124.6 355.2 L1128.3 356.4 L1132.0 356.2 L1135.7 355.7 L1139.4 355.2 L1143.1 355.3 L1146.8 354.8 L1150.5 354.6 L1154.2 354.6 L1157.9 354.4 L1161.6 354.1 L1165.3 353.8 L1169.0 353.7 L1172.7 353.7 L1176.4 353.7 L1180.1 353.5 L1183.8 353.5 L1187.5 353.4 L1191.1 353.9 L1194.8 354.3 L1198.5 354.5 L1202.2 355.3 L1205.9 356.2 L1209.6 356.8 L1213.3 357.2 L1217.0 357.8 L1220.7 358.0 L1224.4 357.5 L1228.1 357.3 L1231.8 357.2 L1235.5 357.2 L1239.2 357.1 L1242.9 356.9 L1246.6 356.8 L1250.3 356.9 L1254.0 356.9 L1257.7 356.8 L1261.4 356.7 L1265.1 356.8 L1268.8 357.1 L1272.5 357.2 L1276.2 357.4 L1279.9 358.2 L1283.6 358.9" stroke="#2962ff" stroke-width="1.4" fill="none"/>
<path d="M340.3 261.3L1275.9 334.3M691.6 393L1316.4 383.7" stroke="#673ab7" stroke-width="3.6" stroke-linecap="round" fill="none"/>
<path d="M147.7 490.8L333.4 260.8M316.7 263.4L333.4 260.8L334.4 277.5M1271.7 329.3L1456.8 99.2M1441.1 100.9L1456.8 99.2L1458.9 115" stroke="#0b2e24" stroke-width="1.9" stroke-linecap="round" stroke-linejoin="round" fill="none"/>
<path d="M12 98H1516" stroke="#2962ff" stroke-width="2" fill="none"/>
<text x="20.3" y="52.6" font-family='"Liberation Sans", sans-serif' font-size="14" fill="#131722" textLength="195.7" lengthAdjust="spacingAndGlyphs" stroke-width="0.15" stroke="#131722">XRP / U.S. Dollar · 4h · BITSTAMP</text>
<text x="225.5" y="52.6" font-family='"Liberation Sans", sans-serif' font-size="14" fill="#131722" textLength="8.2" lengthAdjust="spacingAndGlyphs" stroke-width="0.15" stroke="#131722">O</text>
<text x="234" y="52.6" font-family='"Liberation Sans", sans-serif' font-size="14" fill="#f23645" textLength="45.5" lengthAdjust="spacingAndGlyphs" stroke-width="0.15" stroke="#f23645">2.87021</text>
<text x="288.75" y="52.6" font-family='"Liberation Sans", sans-serif' font-size="14" fill="#131722" textLength="7.5" lengthAdjust="spacingAndGlyphs" stroke-width="0.15" stroke="#131722">H</text>
<text x="297" y="52.6" font-family='"Liberation Sans", sans-serif' font-size="14" fill="#f23645" textLength="46.75" lengthAdjust="spacingAndGlyphs" stroke-width="0.15" stroke="#f23645">2.87864</text>
<text x="352.5" y="52.6" font-family='"Liberation Sans", sans-serif' font-size="14" fill="#131722" textLength="5.5" lengthAdjust="spacingAndGlyphs" stroke-width="0.15" stroke="#131722">L</text>
<text x="359" y="52.6" font-family='"Liberation Sans", sans-serif' font-size="14" fill="#f23645" textLength="45.5" lengthAdjust="spacingAndGlyphs" stroke-width="0.15" stroke="#f23645">2.86519</text>
<text x="413" y="52.6" font-family='"Liberation Sans", sans-serif' font-size="14" fill="#131722" textLength="8" lengthAdjust="spacingAndGlyphs" stroke-width="0.15" stroke="#131722">C</text>
<text x="421.5" y="52.6" font-family='"Liberation Sans", sans-serif' font-size="14" fill="#f23645" textLength="45.5" lengthAdjust="spacingAndGlyphs" stroke-width="0.15" stroke="#f23645">2.86647</text>
<text x="475.5" y="52.6" font-family='"Liberation Sans", sans-serif' font-size="14" fill="#f23645" textLength="107" lengthAdjust="spacingAndGlyphs" stroke-width="0.15" stroke="#f23645">−0.00445 (−0.16%)</text>
<text x="20.3" y="70.9" font-family='"Liberation Sans", sans-serif' font-size="14" fill="#131722" textLength="52.5" lengthAdjust="spacingAndGlyphs" stroke-width="0.15" stroke="#131722">Vol · XRP</text>
<text x="81.6" y="70.9" font-family='"Liberation Sans", sans-serif' font-size="14" fill="#f23645" textLength="49" lengthAdjust="spacingAndGlyphs" stroke-width="0.15" stroke="#f23645">415.81 K</text>
<text x="20.3" y="107.5" font-family='"Liberation Sans", sans-serif' font-size="14" fill="#131722" textLength="52.5" lengthAdjust="spacingAndGlyphs" stroke-width="0.15" stroke="#131722">Vol · XRP</text>
<text x="81.6" y="107.5" font-family='"Liberation Sans", sans-serif' font-size="14" fill="#f23645" textLength="49" lengthAdjust="spacingAndGlyphs" stroke-width="0.15" stroke="#f23645">415.81 K</text>
<text x="20.3" y="89.3" font-family='"Liberation Sans", sans-serif' font-size="14" fill="#131722" textLength="90" lengthAdjust="spacingAndGlyphs" stroke-width="0.15" stroke="#131722">EMA (50, close)</text>
<text x="119.1" y="89.3" font-family='"Liberation Sans", sans-serif' font-size="14" fill="#2962ff" textLength="46.2" lengthAdjust="spacingAndGlyphs" stroke-width="0.15" stroke="#2962ff">2.97539</text>
<text x="1526.2" y="74.0" font-family='"Liberation Sans", sans-serif' font-size="13.8" fill="#131722" textLength="46.5" lengthAdjust="spacingAndGlyphs" stroke="#131722" stroke-width="0.2">5.50000</text>
<text x="1526.2" y="118.9" font-family='"Liberation Sans", sans-serif' font-size="13.8" fill="#131722" textLength="46.5" lengthAdjust="spacingAndGlyphs" stroke="#131722" stroke-width="0.2">5.00000</text>
<text x="1526.2" y="158.20000000000002" font-family='"Liberation Sans", sans-serif' font-size="13.8" fill="#131722" textLength="46.5" lengthAdjust="spacingAndGlyphs" stroke="#131722" stroke-width="0.2">4.60000</text>
<text x="1526.2" y="201.1" font-family='"Liberation Sans", sans-serif' font-size="13.8" fill="#131722" textLength="46.5" lengthAdjust="spacingAndGlyphs" stroke="#131722" stroke-width="0.2">4.20000</text>
<text x="1526.2" y="248.20000000000002" font-family='"Liberation Sans", sans-serif' font-size="13.8" fill="#131722" textLength="46.5" lengthAdjust="spacingAndGlyphs" stroke="#131722" stroke-width="0.2">3.80000</text>
<text x="1526.2" y="300.59999999999997" font-family='"Liberation Sans", sans-serif' font-size="13.8" fill="#131722" textLength="46.5" lengthAdjust="spacingAndGlyphs" stroke="#131722" stroke-width="0.2">3.40000</text>
<text x="1526.2" y="344.09999999999997" font-family='"Liberation Sans", sans-serif' font-size="13.8" fill="#131722" textLength="46.5" lengthAdjust="spacingAndGlyphs" stroke="#131722" stroke-width="0.2">3.10000</text>
<text x="1526.2" y="427.09999999999997" font-family='"Liberation Sans", sans-serif' font-size="13.8" fill="#131722" textLength="46.5" lengthAdjust="spacingAndGlyphs" stroke="#131722" stroke-width="0.2">2.60000</text>
<text x="1526.2" y="464.79999999999995" font-family='"Liberation Sans", sans-serif' font-size="13.8" fill="#131722" textLength="46.5" lengthAdjust="spacingAndGlyphs" stroke="#131722" stroke-width="0.2">2.40000</text>
<text x="1526.2" y="505.79999999999995" font-family='"Liberation Sans", sans-serif' font-size="13.8" fill="#131722" textLength="46.5" lengthAdjust="spacingAndGlyphs" stroke="#131722" stroke-width="0.2">2.20000</text>
<text x="1526.2" y="539.0" font-family='"Liberation Sans", sans-serif' font-size="13.8" fill="#131722" textLength="46.5" lengthAdjust="spacingAndGlyphs" stroke="#131722" stroke-width="0.2">2.05000</text>
<text x="1526.2" y="574.8" font-family='"Liberation Sans", sans-serif' font-size="13.8" fill="#131722" textLength="46.5" lengthAdjust="spacingAndGlyphs" stroke="#131722" stroke-width="0.2">1.90000</text>
<text x="1526.2" y="613.6" font-family='"Liberation Sans", sans-serif' font-size="13.8" fill="#131722" textLength="46.5" lengthAdjust="spacingAndGlyphs" stroke="#131722" stroke-width="0.2">1.75000</text>
<text x="1526.2" y="647.0" font-family='"Liberation Sans", sans-serif' font-size="13.8" fill="#131722" textLength="46.5" lengthAdjust="spacingAndGlyphs" stroke="#131722" stroke-width="0.2">1.63000</text>
<rect x="1517" y="31" width="71" height="36.3" fill="#ffffff"/>
<rect x="1520.5" y="34.5" width="63.5" height="28" rx="4" fill="#ffffff" stroke="#ebebeb" stroke-width="1"/>
<text x="1531" y="53" font-family='"Liberation Sans", sans-serif' font-size="13.6" fill="#131722" textLength="22.5" lengthAdjust="spacingAndGlyphs" stroke-width="0.15" stroke="#131722">USD</text>
<rect x="1517" y="89" width="62" height="18.3" rx="2" fill="#2962ff"/>
<rect x="1517" y="89" width="4" height="18.3" fill="#2962ff"/>
<text x="1526.8" y="102.7" font-family='"Liberation Sans", sans-serif' font-size="13.3" fill="#ffffff" textLength="46.5" lengthAdjust="spacingAndGlyphs" stroke-width="0.15" stroke="#ffffff">5.17153</text>
<rect x="1517" y="348.9" width="61.4" height="18" rx="2" fill="#2962ff"/>
<rect x="1517" y="348.9" width="4" height="18" fill="#2962ff"/>
<text x="1526.8" y="362.6" font-family='"Liberation Sans", sans-serif' font-size="13.3" fill="#ffffff" textLength="46.5" lengthAdjust="spacingAndGlyphs" stroke-width="0.15" stroke="#ffffff">2.97539</text>
<rect x="1517" y="368.5" width="65.9" height="33.7" rx="2" fill="#f23645"/>
<rect x="1517" y="368.5" width="4" height="33.7" fill="#f23645"/>
<text x="1526.8" y="382.3" font-family='"Liberation Sans", sans-serif' font-size="13.3" fill="#ffffff" textLength="46.5" lengthAdjust="spacingAndGlyphs" stroke-width="0.15" stroke="#ffffff">2.86647</text>
<text x="1526.8" y="397.7" font-family='"Liberation Sans", sans-serif' font-size="13.3" fill="#ffffff" textLength="51.6" lengthAdjust="spacingAndGlyphs" stroke-width="0.15" stroke="#ffffff">03:45:10</text>
<rect x="1461.8" y="368.2" width="54.1" height="17.9" rx="2" fill="#f23645"/>
<text x="1466.4" y="382.3" font-family='"Liberation Sans", sans-serif' font-size="13.3" fill="#ffffff" textLength="45.2" lengthAdjust="spacingAndGlyphs" stroke-width="0.15" stroke="#ffffff">XRPUSD</text>
<rect x="1517" y="663.5" width="64.3" height="17.5" fill="#ef5350"/>
<text x="1525.5" y="677" font-family='"Liberation Sans", sans-serif' font-size="13.3" fill="#ffffff" textLength="50" lengthAdjust="spacingAndGlyphs" stroke-width="0.15" stroke="#ffffff">415.81 K</text>
<text x="34.1" y="702" font-family='"Liberation Sans", sans-serif' font-size="13.3" fill="#131722" text-anchor="middle">4</text>
<text x="100.6" y="702" font-family='"Liberation Sans", sans-serif' font-size="13.3" fill="#131722" text-anchor="middle">7</text>
<text x="167.2" y="702" font-family='"Liberation Sans", sans-serif' font-size="13.3" fill="#131722" text-anchor="middle">10</text>
<text x="233.7" y="702" font-family='"Liberation Sans", sans-serif' font-size="13.3" fill="#131722" text-anchor="middle">13</text>
<text x="300.2" y="702" font-family='"Liberation Sans", sans-serif' font-size="13.3" fill="#131722" text-anchor="middle">16</text>
<text x="366.8" y="702" font-family='"Liberation Sans", sans-serif' font-size="13.3" fill="#131722" text-anchor="middle">19</text>
<text x="433.3" y="702" font-family='"Liberation Sans", sans-serif' font-size="13.3" fill="#131722" text-anchor="middle">22</text>
<text x="499.8" y="702" font-family='"Liberation Sans", sans-serif' font-size="13.3" fill="#131722" text-anchor="middle">25</text>
<text x="566.4" y="702" font-family='"Liberation Sans", sans-serif' font-size="13.3" fill="#131722" text-anchor="middle">28</text>
<text x="655.1" y="702" font-family='"Liberation Sans", sans-serif' font-size="13.3" fill="#131722" text-anchor="middle" font-weight="bold" textLength="22" lengthAdjust="spacingAndGlyphs">Aug</text>
<text x="721.6" y="702" font-family='"Liberation Sans", sans-serif' font-size="13.3" fill="#131722" text-anchor="middle">4</text>
<text x="788.2" y="702" font-family='"Liberation Sans", sans-serif' font-size="13.3" fill="#131722" text-anchor="middle">7</text>
<text x="854.7" y="702" font-family='"Liberation Sans", sans-serif' font-size="13.3" fill="#131722" text-anchor="middle">10</text>
<text x="921.2" y="702" font-family='"Liberation Sans", sans-serif' font-size="13.3" fill="#131722" text-anchor="middle">13</text>
<text x="987.8" y="702" font-family='"Liberation Sans", sans-serif' font-size="13.3" fill="#131722" text-anchor="middle">16</text>
<text x="1054.3" y="702" font-family='"Liberation Sans", sans-serif' font-size="13.3" fill="#131722" text-anchor="middle">19</text>
<text x="1120.8" y="702" font-family='"Liberation Sans", sans-serif' font-size="13.3" fill="#131722" text-anchor="middle">22</text>
<text x="1187.4" y="702" font-family='"Liberation Sans", sans-serif' font-size="13.3" fill="#131722" text-anchor="middle">25</text>
<text x="1253.9" y="702" font-family='"Liberation Sans", sans-serif' font-size="13.3" fill="#131722" text-anchor="middle">28</text>
<text x="1342.6" y="702" font-family='"Liberation Sans", sans-serif' font-size="13.3" fill="#131722" text-anchor="middle" font-weight="bold" textLength="21.4" lengthAdjust="spacingAndGlyphs">Sep</text>
<text x="1409.1" y="702" font-family='"Liberation Sans", sans-serif' font-size="13.3" fill="#131722" text-anchor="middle">4</text>
<text x="1475.7" y="702" font-family='"Liberation Sans", sans-serif' font-size="13.3" fill="#131722" text-anchor="middle">7</text>
<circle cx="1284.6" cy="667.1" r="11.3" stroke="#7b2fbe" stroke-width="1.8" fill="#ffffff"/>
<circle cx="1287" cy="667.1" r="10.9" fill="#ffffff" stroke="#f23645" stroke-width="1.9"/><clipPath id="fc1287"><circle cx="1287" cy="667.1" r="8.9"/></clipPath><g clip-path="url(#fc1287)"><rect x="1277" y="658.9" width="20" height="3.3" fill="#ef4444"/><rect x="1277" y="665.6" width="20" height="3.4" fill="#ef4444"/><rect x="1277" y="672.4" width="20" height="4" fill="#ef4444"/><rect x="1277" y="658.1" width="12.85" height="11.2" fill="#2f7de1"/><circle cx="1281" cy="661.2" r="0.55" fill="#ffffff"/><circle cx="1281" cy="664.0" r="0.55" fill="#ffffff"/><circle cx="1281" cy="666.8000000000001" r="0.55" fill="#ffffff"/><circle cx="1284" cy="661.2" r="0.55" fill="#ffffff"/><circle cx="1284" cy="664.0" r="0.55" fill="#ffffff"/><circle cx="1284" cy="666.8000000000001" r="0.55" fill="#ffffff"/><circle cx="1287" cy="661.2" r="0.55" fill="#ffffff"/><circle cx="1287" cy="664.0" r="0.55" fill="#ffffff"/><circle cx="1287" cy="666.8000000000001" r="0.55" fill="#ffffff"/></g>
<circle cx="1375" cy="667.2" r="10.9" fill="#ffffff" stroke="#f23645" stroke-width="1.9"/><clipPath id="fc1375"><circle cx="1375" cy="667.2" r="8.9"/></clipPath><g clip-path="url(#fc1375)"><rect x="1365" y="659.0" width="20" height="3.3" fill="#ef4444"/><rect x="1365" y="665.7" width="20" height="3.4" fill="#ef4444"/><rect x="1365" y="672.5" width="20" height="4" fill="#ef4444"/><rect x="1365" y="658.2" width="12.85" height="11.2" fill="#2f7de1"/><circle cx="1369" cy="661.3000000000001" r="0.55" fill="#ffffff"/><circle cx="1369" cy="664.1" r="0.55" fill="#ffffff"/><circle cx="1369" cy="666.9000000000001" r="0.55" fill="#ffffff"/><circle cx="1372" cy="661.3000000000001" r="0.55" fill="#ffffff"/><circle cx="1372" cy="664.1" r="0.55" fill="#ffffff"/><circle cx="1372" cy="666.9000000000001" r="0.55" fill="#ffffff"/><circle cx="1375" cy="661.3000000000001" r="0.55" fill="#ffffff"/><circle cx="1375" cy="664.1" r="0.55" fill="#ffffff"/><circle cx="1375" cy="666.9000000000001" r="0.55" fill="#ffffff"/></g>
<circle cx="1398" cy="667.2" r="10.9" fill="#ffffff" stroke="#f23645" stroke-width="1.9"/><clipPath id="fc1398"><circle cx="1398" cy="667.2" r="8.9"/></clipPath><g clip-path="url(#fc1398)"><rect x="1388" y="659.0" width="20" height="3.3" fill="#ef4444"/><rect x="1388" y="665.7" width="20" height="3.4" fill="#ef4444"/><rect x="1388" y="672.5" width="20" height="4" fill="#ef4444"/><rect x="1388" y="658.2" width="12.85" height="11.2" fill="#2f7de1"/><circle cx="1392" cy="661.3000000000001" r="0.55" fill="#ffffff"/><circle cx="1392" cy="664.1" r="0.55" fill="#ffffff"/><circle cx="1392" cy="666.9000000000001" r="0.55" fill="#ffffff"/><circle cx="1395" cy="661.3000000000001" r="0.55" fill="#ffffff"/><circle cx="1395" cy="664.1" r="0.55" fill="#ffffff"/><circle cx="1395" cy="666.9000000000001" r="0.55" fill="#ffffff"/><circle cx="1398" cy="661.3000000000001" r="0.55" fill="#ffffff"/><circle cx="1398" cy="664.1" r="0.55" fill="#ffffff"/><circle cx="1398" cy="666.9000000000001" r="0.55" fill="#ffffff"/></g>
<path d="M1272.3 665.3 Q1273.4 669.9 1277.6 671 Q1273.4 672.1 1272.3 676.7 Q1271.2 672.1 1267 671 Q1271.2 669.9 1272.3 665.3Z" fill="#7c4dff" stroke="#ffffff" stroke-width="1.6" paint-order="stroke"/>
<path d="M13.5 737H27V753.5H19.8V742.8H13.5Z" fill="#131722"/>
<circle cx="32.5" cy="739.9" r="2.9" fill="#131722"/>
<path d="M37.3 737H46.6L41.1 753.5H32.9Z" fill="#131722"/>
<text x="54.9" y="753.6" font-family='"Liberation Sans", sans-serif' font-size="23" font-weight="bold" fill="#131722" textLength="133" lengthAdjust="spacingAndGlyphs">TradingView</text>
</svg></body></html>
